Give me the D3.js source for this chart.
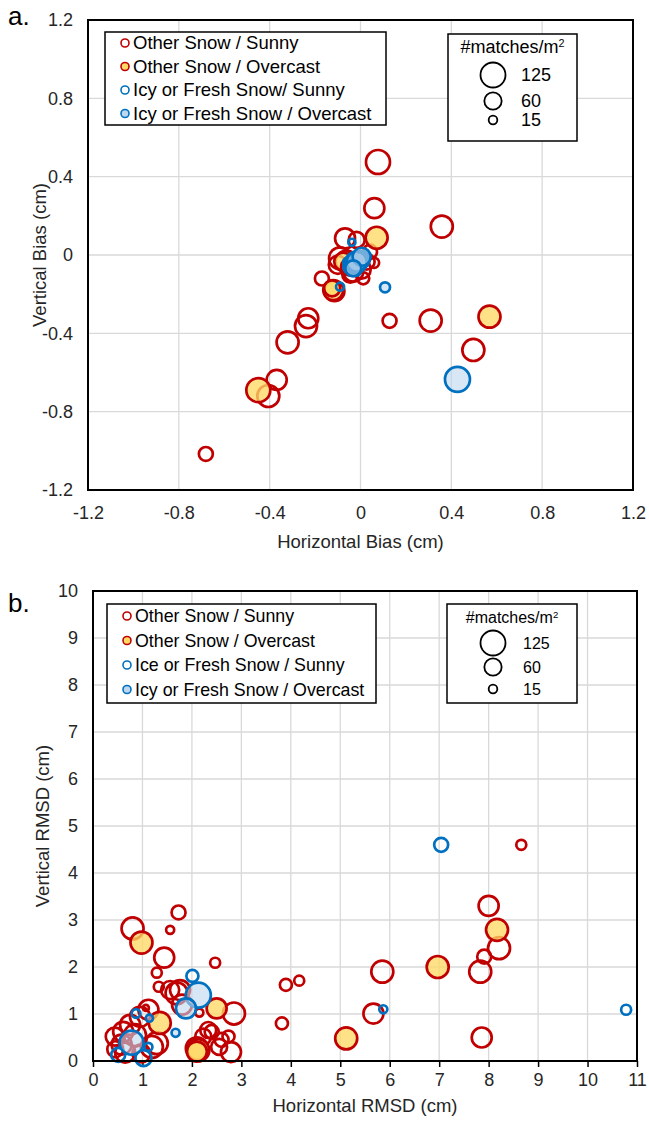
<!DOCTYPE html>
<html>
<head>
<meta charset="utf-8">
<script src="https://cdn.jsdelivr.net/npm/d3@7"></script>
<style>
  body { margin: 0; background: #fff; }
  svg { display: block; font-family: Arial, "Liberation Sans", sans-serif; }
</style>
</head>
<body>
<svg id="chart" width="649" height="1123"></svg>
<script>
// ── Data: [x, y, #matches/m²] ────────────────────────────────────────────────

// a. bias
const biasOtherSunny = [
  [0.077, 0.475, 115], [0.061, 0.239, 80], [0.358, 0.145, 97], [0.309, -0.335, 97],
  [0.128, -0.336, 39], [0.497, -0.485, 97], [-0.681, -1.016, 39], [-0.406, -0.72, 97],
  [-0.369, -0.638, 80], [-0.321, -0.446, 97], [-0.24, -0.363, 97], [-0.23, -0.323, 80],
  [-0.068, 0.085, 80], [-0.017, 0.077, 51], [-0.09, -0.017, 97], [-0.061, -0.034, 97],
  [0.027, -0.034, 51], [0.042, 0.017, 39], [-0.032, -0.085, 80], [-0.17, -0.12, 39],
  [0.012, -0.119, 29], [0.06, -0.04, 20], [-0.115, -0.185, 80], [-0.045, -0.1, 51],
  [0.005, -0.075, 65], [-0.1, -0.05, 65]
];
const biasOtherOvercast = [
  [0.071, 0.088, 97], [0.568, -0.315, 97], [-0.45, -0.69, 115], [-0.12, -0.179, 80],
  [-0.076, -0.034, 65], [-0.046, -0.06, 65], [-0.125, -0.17, 51]
];
const biasIcySunny = [
  [-0.038, 0.065, 10], [-0.09, -0.162, 13], [-0.02, -0.02, 39], [0.0, -0.01, 29],
  [-0.035, -0.05, 39], [0.01, -0.035, 29], [-0.015, -0.065, 29], [-0.05, -0.04, 29],
  [-0.03, -0.03, 51], [-0.01, -0.045, 51], [0.0, -0.02, 39], [-0.045, -0.06, 39],
  [-0.02, -0.08, 20], [0.015, -0.005, 20]
];
const biasIcyOvercast = [
  [0.108, -0.165, 20], [0.427, -0.635, 125], [-0.017, -0.034, 80],
  [0.005, -0.009, 65], [-0.032, -0.068, 51]
];

// b. RMSD
const rmsdOtherSunny = [
  [3.9, 1.62, 29], [4.17, 1.71, 20], [5.85, 1.9, 97], [7.91, 2.22, 39], [7.83, 1.9, 97],
  [8.21, 2.4, 97], [5.67, 1.01, 80], [7.86, 0.5, 80], [3.82, 0.8, 29], [8.66, 4.6, 20],
  [8.0, 3.3, 80], [1.73, 3.16, 39], [0.8, 2.82, 97], [1.56, 2.79, 13], [1.44, 2.2, 80],
  [1.29, 1.88, 20], [1.33, 1.58, 20], [2.47, 2.09, 20], [1.69, 1.44, 97], [1.76, 1.51, 80],
  [1.56, 1.51, 65], [2.85, 1.01, 97], [2.15, 1.03, 13], [1.12, 1.09, 80], [1.07, 1.13, 7],
  [0.75, 0.77, 80], [0.44, 0.52, 65], [0.61, 0.62, 80], [1.19, 0.3, 97], [0.98, 0.16, 65],
  [1.29, 0.38, 97], [0.95, 0.94, 80], [2.1, 0.27, 97], [2.23, 0.52, 51], [2.4, 0.62, 39],
  [2.33, 0.66, 51], [2.74, 0.52, 29], [2.79, 0.19, 80], [0.45, 0.25, 51], [0.65, 0.18, 80],
  [1.8, 1.2, 80], [2.6, 0.45, 39], [2.55, 0.3, 51], [0.58, 0.35, 80], [0.85, 0.55, 97]
];
const rmsdOtherOvercast = [
  [6.97, 2.0, 97], [5.12, 0.48, 97], [8.17, 2.79, 97], [0.98, 2.52, 97],
  [2.5, 1.12, 80], [1.35, 0.81, 97], [2.13, 0.23, 97], [2.1, 0.2, 80]
];
const rmsdIcySunny = [
  [7.04, 4.6, 39], [10.78, 1.09, 20], [5.87, 1.1, 13], [2.01, 1.81, 29],
  [0.87, 1.01, 15], [0.51, 0.13, 39], [1.02, 0.06, 51], [1.12, 0.3, 13]
];
const rmsdIcyOvercast = [
  [2.13, 1.4, 125], [1.88, 1.12, 80], [0.78, 0.39, 115], [1.14, 0.91, 10], [1.67, 0.6, 13]
];

const biasTicks = [-1.2, -0.8, -0.4, 0, 0.4, 0.8, 1.2];
const rmsdXTicks = d3.range(0, 12);
const rmsdYTicks = d3.range(0, 11);
const sizeLegendValues = [125, 60, 15];
const legendLabelsA = ["Other Snow / Sunny", "Other Snow / Overcast", "Icy or Fresh Snow/ Sunny", "Icy or Fresh Snow / Overcast"];
const legendLabelsB = ["Other Snow / Sunny", "Other Snow / Overcast", "Ice or Fresh Snow / Sunny", "Icy or Fresh Snow / Overcast"];

// ── Styles ───────────────────────────────────────────────────────────────────

const RED = "#C00000", BLUE = "#0070C0";
const styles = [
  { stroke: RED,  fill: "none" },
  { stroke: RED,  fill: "#FFD966", op: 0.78 },
  { stroke: BLUE, fill: "none" },
  { stroke: BLUE, fill: "#BDD7EE", op: 0.6 }
];
const TXT = "#262626";
const rScale = d3.scaleSqrt().domain([0, 125]).range([0, 12.5]);
const fmt = d => String(d).replace("−", "-");

const svg = d3.select("#chart");

// ── Panel ────────────────────────────────────────────────────────────────────

function drawPanel(o) {
  const x = d3.scaleLinear().domain(o.xDomain).range([o.left, o.right]);
  const y = d3.scaleLinear().domain(o.yDomain).range([o.bottom, o.top]);
  const g = svg.append("g");

  // gridlines
  g.append("g").selectAll("line").data(o.xTicks).join("line")
    .attr("x1", d => x(d)).attr("x2", d => x(d))
    .attr("y1", o.top).attr("y2", o.bottom)
    .attr("stroke", "#D9D9D9").attr("stroke-width", 1.3);
  g.append("g").selectAll("line").data(o.yTicks).join("line")
    .attr("x1", o.left).attr("x2", o.right)
    .attr("y1", d => y(d)).attr("y2", d => y(d))
    .attr("stroke", "#D9D9D9").attr("stroke-width", 1.3);

  // axes (labels only, frame drawn separately)
  const xAxis = g.append("g")
    .attr("transform", `translate(0,${o.bottom})`)
    .call(d3.axisBottom(x).tickValues(o.xTicks).tickSize(o.xTickLen).tickPadding(o.xPad).tickFormat(fmt));
  const yAxis = g.append("g")
    .attr("transform", `translate(${o.left},0)`)
    .call(d3.axisLeft(y).tickValues(o.yTicks).tickSize(0).tickPadding(o.yPad).tickFormat(fmt));
  [xAxis, yAxis].forEach(a => {
    a.select(".domain").remove();
    a.selectAll("text").attr("fill", TXT).style("font-size", "18px")
      .style("font-family", "Arial, 'Liberation Sans', sans-serif");
    a.selectAll("line").attr("stroke", "#000").attr("stroke-width", 1.5);
  });

  // bubbles, series in Excel order
  o.series.forEach((data, i) => {
    const s = styles[i];
    g.append("g").selectAll("circle").data(data).join("circle")
      .attr("cx", d => x(d[0])).attr("cy", d => y(d[1]))
      .attr("r", d => rScale(d[2]))
      .attr("fill", s.fill).attr("fill-opacity", s.op || 0)
      .attr("stroke", s.stroke).attr("stroke-width", 2.7);
  });

  // frame
  g.append("rect")
    .attr("x", o.left).attr("y", o.top)
    .attr("width", o.right - o.left).attr("height", o.bottom - o.top)
    .attr("fill", "none").attr("stroke", "#000").attr("stroke-width", 2);

  // titles
  g.append("text").attr("x", (o.left + o.right) / 2).attr("y", o.xTitleY)
    .attr("text-anchor", "middle").attr("fill", TXT).style("font-size", "18.5px").text(o.xTitle);
  g.append("text").attr("transform", `translate(${o.yTitleX},${(o.top + o.bottom) / 2}) rotate(-90)`)
    .attr("text-anchor", "middle").attr("fill", TXT).style("font-size", "18.5px").text(o.yTitle);
  g.append("text").attr("x", 8).attr("y", o.top + o.tagDy)
    .attr("fill", "#000").style("font-size", "26px").text(o.tag);

  // series legend
  const L = o.legend;
  g.append("rect").attr("x", L.x).attr("y", L.y).attr("width", L.w).attr("height", L.h)
    .attr("fill", "#fff").attr("stroke", "#000").attr("stroke-width", 1.5);
  const items = g.append("g").selectAll("g").data(o.labels).join("g")
    .attr("transform", (d, i) => `translate(${L.x + 20},${L.y + L.row0 + i * L.step})`);
  items.append("circle").attr("r", 4)
    .attr("fill", (d, i) => styles[i].fill === "none" ? "#fff" : styles[i].fill)
    .attr("stroke", (d, i) => styles[i].stroke).attr("stroke-width", 1.6);
  items.append("text").attr("x", 8).attr("dy", "0.35em")
    .attr("fill", "#000").style("font-size", L.font + "px").text(d => d);

  // size legend
  const S = o.sizeLegend;
  g.append("rect").attr("x", S.x).attr("y", S.y).attr("width", S.w).attr("height", S.h)
    .attr("fill", "#fff").attr("stroke", "#000").attr("stroke-width", 1.5);
  const title = g.append("text").attr("x", S.x + S.w / 2).attr("y", S.y + S.titleDy)
    .attr("text-anchor", "middle").attr("fill", "#000").style("font-size", S.font + "px");
  title.append("tspan").text("#matches/m");
  title.append("tspan").attr("baseline-shift", "super").style("font-size", (S.font * 0.6) + "px").text("2");
  const sz = g.append("g").selectAll("g").data(sizeLegendValues).join("g")
    .attr("transform", (d, i) => `translate(${S.x + S.cx},${S.y + S.rows[i]})`);
  sz.append("circle").attr("r", d => rScale(d))
    .attr("fill", "none").attr("stroke", "#000").attr("stroke-width", 1.8);
  sz.append("text").attr("x", S.tx).attr("dy", "0.35em")
    .attr("fill", "#000").style("font-size", S.font + "px").text(d => d);
}

drawPanel({
  left: 88, right: 633, top: 20, bottom: 490,
  xDomain: [-1.2, 1.2], yDomain: [-1.2, 1.2],
  xTicks: biasTicks, yTicks: biasTicks, xTickLen: 0, xPad: 16, yPad: 15,
  series: [biasOtherSunny, biasOtherOvercast, biasIcySunny, biasIcyOvercast],
  xTitle: "Horizontal Bias (cm)", xTitleY: 548,
  yTitle: "Vertical Bias (cm)", yTitleX: 46,
  tag: "a.", tagDy: 5,
  labels: legendLabelsA,
  legend: { x: 105, y: 32, w: 281, h: 93, row0: 11, step: 23.5, font: 18.5 },
  sizeLegend: { x: 448, y: 34, w: 129, h: 107, titleDy: 19, font: 18,
                cx: 45, rows: [41, 67, 86], tx: 28 }
});

drawPanel({
  left: 93, right: 637, top: 591, bottom: 1061,
  xDomain: [0, 11], yDomain: [0, 10],
  xTicks: rmsdXTicks, yTicks: rmsdYTicks, xTickLen: 6, xPad: 6, yPad: 15,
  series: [rmsdOtherSunny, rmsdOtherOvercast, rmsdIcySunny, rmsdIcyOvercast],
  xTitle: "Horizontal RMSD (cm)", xTitleY: 1112,
  yTitle: "Vertical RMSD (cm)", yTitleX: 49,
  tag: "b.", tagDy: 21,
  labels: legendLabelsB,
  legend: { x: 107, y: 604, w: 269, h: 99, row0: 12, step: 24.5, font: 17.8 },
  sizeLegend: { x: 447, y: 604, w: 130, h: 99, titleDy: 19, font: 16,
                cx: 46, rows: [39, 63, 85], tx: 30 }
});
</script>
</body>
</html>
